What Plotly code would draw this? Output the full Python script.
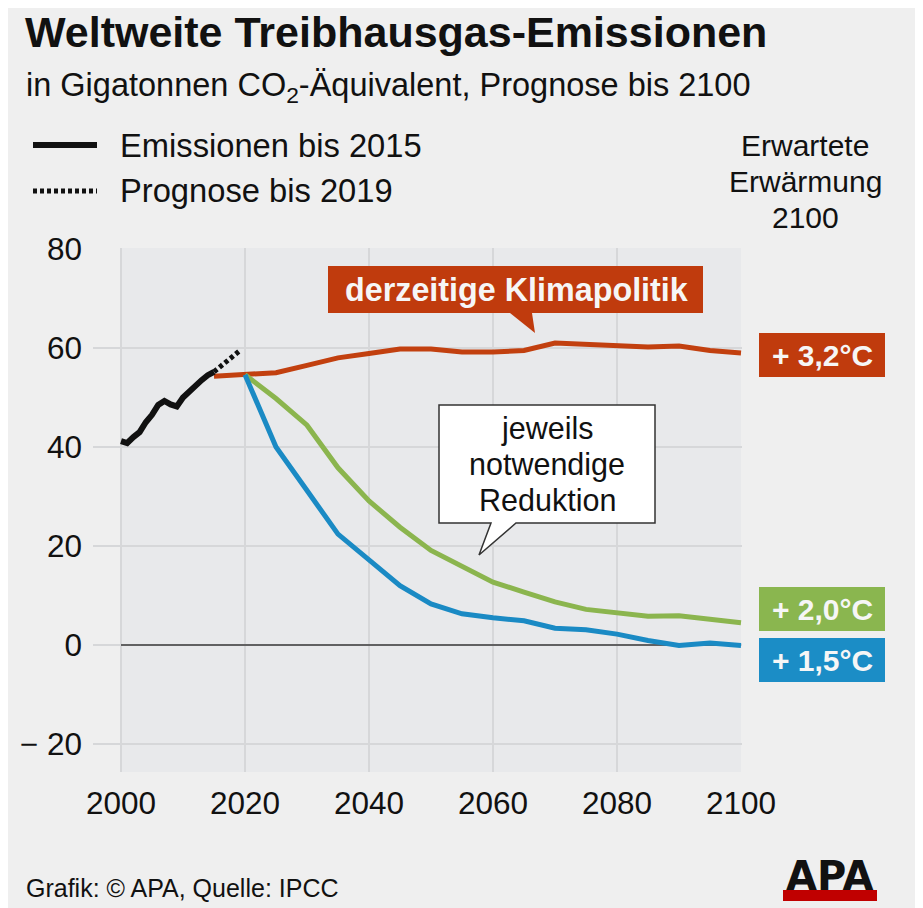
import plotly.graph_objects as go

# ---------------- data ----------------
hist_years = list(range(2000, 2016))
hist_values = [41.2, 40.8, 42.0, 43.0, 45.0, 46.5, 48.5, 49.3, 48.6, 48.2,
               50.0, 51.3, 52.5, 53.5, 54.5, 55.2]
prog_years = [2015, 2016, 2017, 2018, 2019]
prog_values = [55.2, 56.2, 57.2, 58.3, 59.3]

scen_years = list(range(2020, 2101, 5))
policy_years = [2015] + scen_years
policy_values = [54.3, 54.6, 55.0, 56.5, 58.0, 58.9, 59.8, 59.8, 59.2, 59.2,
                 59.5, 61.0, 60.8, 60.6, 60.2, 60.4, 59.5, 59.0]
deg20_values = [54.6, 49.8, 44.4, 35.8, 29.1, 23.8, 19.1, 15.8, 12.7, 10.7,
                8.7, 7.2, 6.5, 5.8, 5.9, 5.3, 4.5]
deg15_values = [54.6, 40.0, 31.2, 22.4, 17.2, 12.0, 8.3, 6.3, 5.5, 4.9,
                3.4, 3.1, 2.2, 0.9, -0.1, 0.4, -0.1]

x_ticks = [2000, 2020, 2040, 2060, 2080, 2100]
y_ticks = [-20, 0, 20, 40, 60, 80]
y_ticktext = ["\u2212 20", "0", "20", "40", "60", "80"]

title = "Weltweite Treibhausgas-Emissionen"
subtitle = "in Gigatonnen CO<sub>2</sub>-Äquivalent, Prognose bis 2100"
legend_labels = ["Emissionen bis 2015", "Prognose bis 2019"]
header_lines = ["Erwartete", "Erwärmung", "2100"]
callout_lines = ["jeweils", "notwendige", "Reduktion"]
policy_label = "derzeitige Klimapolitik"
temp_labels = ["+ 3,2°C", "+ 2,0°C", "+ 1,5°C"]
footer = "Grafik: © APA, Quelle: IPCC"

# ---------------- style ----------------
FONT = "Liberation Sans, Arial, sans-serif"
PAPER = "#efefef"
SHADE = "#e8e9eb"
GRID = "#d6d7d9"
RED = "#c2400f"
GREEN = "#8bb54e"
BLUE = "#1a8ac4"
RED_BOX = "#c03b0d"
GREEN_BOX = "#8ab64f"
BLUE_BOX = "#1b8dc6"

# page body has an 8px margin: the figure is drawn 8px in from the window edge
OFF = 8
W_PX, H_PX = 923 - OFF, 908 - OFF
# plot area in window pixels
L, R, T, B = 93, 742, 248, 772


def px(x):
    return (x - L) / (R - L)


def py(y):
    return (B - y) / (B - T)


def path(points):
    s = "M" + " L".join(f"{px(a):.5f},{py(b):.5f}" for a, b in points)
    return s + " Z"


fig = go.Figure()

fig.add_trace(go.Scatter(x=policy_years, y=policy_values, mode="lines",
                         line=dict(color=RED, width=5), hoverinfo="skip"))
fig.add_trace(go.Scatter(x=scen_years, y=deg20_values, mode="lines",
                         line=dict(color=GREEN, width=5), hoverinfo="skip"))
fig.add_trace(go.Scatter(x=scen_years, y=deg15_values, mode="lines",
                         line=dict(color=BLUE, width=5), hoverinfo="skip"))
fig.add_trace(go.Scatter(x=prog_years, y=prog_values, mode="lines",
                         line=dict(color="#111111", width=5, dash="4px,3px"),
                         hoverinfo="skip"))
fig.add_trace(go.Scatter(x=hist_years, y=hist_values, mode="lines",
                         line=dict(color="#111111", width=6), hoverinfo="skip"))

shapes = []
# shaded plot region
shapes.append(dict(type="rect", xref="x", yref="paper", x0=x_ticks[0], x1=x_ticks[-1],
                   y0=0, y1=1, fillcolor=SHADE, line=dict(width=0), layer="below"))
# zero line
shapes.append(dict(type="line", xref="x", yref="y", x0=x_ticks[0], x1=x_ticks[-1],
                   y0=0, y1=0, line=dict(color="#3a3a3a", width=1.5), layer="between"))
# legend keys
shapes.append(dict(type="line", xref="paper", yref="paper", x0=px(33), x1=px(97),
                   y0=py(145), y1=py(145), line=dict(color="#111111", width=6)))
shapes.append(dict(type="line", xref="paper", yref="paper", x0=px(33), x1=px(97),
                   y0=py(191), y1=py(191), line=dict(color="#111111", width=5, dash="4px,3px")))
# red callout bubble
shapes.append(dict(type="path", xref="paper", yref="paper",
                   path=path([(328, 266), (703, 266), (703, 313), (532, 313),
                              (535, 333), (510, 313), (328, 313)]),
                   fillcolor=RED_BOX, line=dict(width=0)))
# white callout bubble
shapes.append(dict(type="path", xref="paper", yref="paper",
                   path=path([(439, 405), (655, 405), (655, 523), (516, 523),
                              (479, 555), (491, 523), (439, 523)]),
                   fillcolor="#ffffff", line=dict(color="#333333", width=1.5)))
# temperature boxes
for (y0, y1), col in zip([(333, 377), (587, 631), (638, 682)], [RED_BOX, GREEN_BOX, BLUE_BOX]):
    shapes.append(dict(type="rect", xref="paper", yref="paper",
                       x0=px(759), x1=px(885), y0=py(y1), y1=py(y0),
                       fillcolor=col, line=dict(width=0)))
# APA logo bar
shapes.append(dict(type="rect", xref="paper", yref="paper",
                   x0=px(783), x1=px(877), y0=py(901), y1=py(890),
                   fillcolor="#c00000", line=dict(width=0)))

annotations = []


def text(x, y, s, size, color="#111111", xanchor="left", family=FONT):
    annotations.append(dict(xref="paper", yref="paper", x=px(x), y=py(y), text=s,
                            showarrow=False, xanchor=xanchor, yanchor="middle",
                            font=dict(family=family, size=size, color=color)))


text(23, 32, f"<b>{title}</b>", 43)
text(24, 88, subtitle, 32.5)
text(118, 145, legend_labels[0], 32.7)
text(118, 191, legend_labels[1], 32.7)
for yy, s in zip([145, 181, 217], header_lines):
    text(805, yy, s, 30, xanchor="center")
for yy, s in zip([428, 464, 500], callout_lines):
    text(547, yy, s, 30.5, xanchor="center")
text(516, 290, f"<b>{policy_label}</b>", 32.3, color="#f6f6f6", xanchor="center")
for yy, s in zip([355, 609, 660], temp_labels):
    text(822, yy, f"<b>{s}</b>", 30, color="#f6f6f6", xanchor="center")
text(24, 888, footer, 25)
text(830, 876, "<b>APA</b>", 40, xanchor="center", family="DejaVu Sans, sans-serif")

x_per_px = (x_ticks[-1] - x_ticks[0]) / (741 - 121)
y_per_px = (80 - 0) / (645 - 249)
x_range = [x_ticks[0] - (121 - L) * x_per_px, x_ticks[-1] + (R - 741) * x_per_px]
y_range = [0 - (B - 645) * y_per_px, 80 + (249 - T) * y_per_px]

fig.update_layout(
    width=W_PX, height=H_PX,
    margin=dict(l=L - OFF, r=W_PX - (R - OFF), t=T - OFF, b=H_PX - (B - OFF), pad=0),
    paper_bgcolor=PAPER, plot_bgcolor=PAPER,
    showlegend=False,
    shapes=shapes, annotations=annotations,
    xaxis=dict(range=x_range, tickvals=x_ticks, showgrid=True, gridcolor=GRID,
               gridwidth=1.5, zeroline=False, showline=False, ticks="",
               tickfont=dict(family=FONT, size=31.5, color="#111111"),
               ticklabelstandoff=9, fixedrange=True),
    yaxis=dict(range=y_range, tickvals=y_ticks, ticktext=y_ticktext, showgrid=True,
               gridcolor=GRID, gridwidth=1.5, zeroline=False, showline=False, ticks="",
               tickfont=dict(family=FONT, size=31.5, color="#111111"),
               ticklabelstandoff=10, fixedrange=True),
)

fig.write_html("out.html")
